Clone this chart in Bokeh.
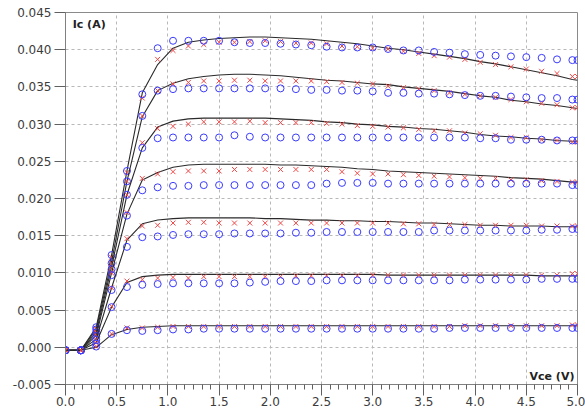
from bokeh.plotting import figure
from bokeh.models import Range1d, SingleIntervalTicker, PrintfTickFormatter, Label
from bokeh.embed import file_html
from bokeh.resources import INLINE

# Vce (V) sample points
vce = [0.0, 0.15, 0.3, 0.45, 0.6, 0.75, 0.9, 1.05, 1.2, 1.35, 1.5, 1.65, 1.8, 1.95,
       2.1, 2.25, 2.4, 2.55, 2.7, 2.85, 3.0, 3.15, 3.3, 3.45, 3.6, 3.75, 3.9, 4.05,
       4.2, 4.35, 4.5, 4.65, 4.8, 4.95, 5.0]

# Curve 1 (highest base current)
c1_model = [-0.0004, -0.0004, 0.0027, 0.0124, 0.0237, 0.0342, 0.0380, 0.0402, 0.0410, 0.0413,
            0.0415, 0.0416, 0.0417, 0.0417, 0.0416, 0.0415, 0.0414, 0.0412, 0.0410, 0.0408,
            0.0405, 0.0402, 0.0400, 0.0397, 0.0394, 0.0391, 0.0388, 0.0384, 0.0381, 0.0377,
            0.0373, 0.0369, 0.0365, 0.0360, 0.0359]
c1_cross = [-0.0004, -0.0004, 0.0026, 0.0121, 0.0235, 0.0335, 0.0387, 0.0399, 0.0405, 0.0407,
            0.0410, 0.0410, 0.0411, 0.0412, 0.0411, 0.0409, 0.0409, 0.0408, 0.0405, 0.0404,
            0.0402, 0.0401, 0.0398, 0.0395, 0.0392, 0.0390, 0.0387, 0.0383, 0.0380, 0.0377,
            0.0374, 0.0371, 0.0368, 0.0364, 0.0364]
c1_circle = [-0.0004, -0.0004, 0.0027, 0.0124, 0.0237, 0.0340, 0.0402, 0.0412, 0.0412, 0.0412,
             0.0412, 0.0410, 0.0409, 0.0409, 0.0408, 0.0407, 0.0406, 0.0404, 0.0403, 0.0403,
             0.0403, 0.0401, 0.0399, 0.0399, 0.0397, 0.0396, 0.0394, 0.0393, 0.0392, 0.0391,
             0.0390, 0.0389, 0.0387, 0.0386, 0.0386]

# Curve 2
c2_model = [-0.0004, -0.0004, 0.0024, 0.0115, 0.0223, 0.0310, 0.0345, 0.0355, 0.0361, 0.0364,
            0.0366, 0.0367, 0.0367, 0.0366, 0.0365, 0.0363, 0.0361, 0.0359, 0.0358, 0.0356,
            0.0354, 0.0353, 0.0350, 0.0348, 0.0346, 0.0344, 0.0341, 0.0338, 0.0336, 0.0332,
            0.0330, 0.0327, 0.0325, 0.0322, 0.0321]
c2_cross = [-0.0004, -0.0004, 0.0024, 0.0113, 0.0223, 0.0311, 0.0345, 0.0354, 0.0356, 0.0358,
            0.0358, 0.0359, 0.0359, 0.0358, 0.0358, 0.0358, 0.0358, 0.0357, 0.0356, 0.0355,
            0.0354, 0.0351, 0.0349, 0.0347, 0.0345, 0.0342, 0.0340, 0.0338, 0.0336, 0.0333,
            0.0330, 0.0328, 0.0326, 0.0322, 0.0322]
c2_circle = [-0.0004, -0.0004, 0.0024, 0.0113, 0.0223, 0.0311, 0.0345, 0.0347, 0.0348, 0.0348,
             0.0348, 0.0348, 0.0348, 0.0348, 0.0348, 0.0347, 0.0346, 0.0346, 0.0345, 0.0345,
             0.0344, 0.0342, 0.0342, 0.0341, 0.0341, 0.0340, 0.0339, 0.0338, 0.0338, 0.0337,
             0.0336, 0.0335, 0.0335, 0.0333, 0.0333]

# Curve 3
c3_model = [-0.0004, -0.0004, 0.0020, 0.0108, 0.0205, 0.0268, 0.0296, 0.0304, 0.0307, 0.0308,
            0.0308, 0.0308, 0.0308, 0.0308, 0.0307, 0.0306, 0.0305, 0.0303, 0.0302, 0.0300,
            0.0299, 0.0297, 0.0296, 0.0294, 0.0293, 0.0291, 0.0289, 0.0286, 0.0284, 0.0283,
            0.0281, 0.0280, 0.0278, 0.0277, 0.0277]
c3_cross = [-0.0004, -0.0004, 0.0020, 0.0107, 0.0205, 0.0275, 0.0294, 0.0297, 0.0300, 0.0303,
            0.0303, 0.0303, 0.0304, 0.0302, 0.0302, 0.0302, 0.0302, 0.0301, 0.0300, 0.0298,
            0.0297, 0.0296, 0.0295, 0.0293, 0.0291, 0.0291, 0.0288, 0.0287, 0.0285, 0.0282,
            0.0282, 0.0279, 0.0278, 0.0276, 0.0276]
c3_circle = [-0.0004, -0.0004, 0.0020, 0.0105, 0.0205, 0.0268, 0.0281, 0.0282, 0.0282, 0.0282,
             0.0282, 0.0285, 0.0283, 0.0282, 0.0282, 0.0282, 0.0282, 0.0282, 0.0282, 0.0282,
             0.0282, 0.0282, 0.0282, 0.0282, 0.0282, 0.0282, 0.0282, 0.0281, 0.0281, 0.0279,
             0.0279, 0.0279, 0.0278, 0.0278, 0.0278]

# Curve 4
c4_model = [-0.0004, -0.0004, 0.0016, 0.0100, 0.0179, 0.0225, 0.0235, 0.0242, 0.0245, 0.0246,
            0.0246, 0.0246, 0.0246, 0.0246, 0.0245, 0.0245, 0.0244, 0.0243, 0.0242, 0.0240,
            0.0239, 0.0237, 0.0236, 0.0235, 0.0234, 0.0233, 0.0232, 0.0231, 0.0230, 0.0228,
            0.0227, 0.0226, 0.0224, 0.0222, 0.0222]
c4_cross = [-0.0004, -0.0004, 0.0016, 0.0100, 0.0181, 0.0227, 0.0233, 0.0236, 0.0237, 0.0237,
            0.0237, 0.0239, 0.0239, 0.0239, 0.0239, 0.0239, 0.0239, 0.0239, 0.0236, 0.0234,
            0.0233, 0.0233, 0.0232, 0.0231, 0.0230, 0.0229, 0.0228, 0.0227, 0.0227, 0.0225,
            0.0225, 0.0224, 0.0223, 0.0222, 0.0222]
c4_circle = [-0.0004, -0.0004, 0.0015, 0.0097, 0.0177, 0.0211, 0.0215, 0.0217, 0.0217, 0.0218,
             0.0218, 0.0218, 0.0218, 0.0218, 0.0218, 0.0218, 0.0218, 0.0220, 0.0221, 0.0221,
             0.0221, 0.0220, 0.0220, 0.0220, 0.0220, 0.0220, 0.0220, 0.0220, 0.0220, 0.0220,
             0.0220, 0.0220, 0.0220, 0.0218, 0.0218]

# Curve 5
c5_model = [-0.0004, -0.0004, 0.0011, 0.0080, 0.0144, 0.0166, 0.0171, 0.0173, 0.0174, 0.0174,
            0.0174, 0.0174, 0.0174, 0.0173, 0.0173, 0.0172, 0.0171, 0.0171, 0.0170, 0.0170,
            0.0169, 0.0169, 0.0168, 0.0167, 0.0167, 0.0166, 0.0165, 0.0164, 0.0164, 0.0163,
            0.0163, 0.0163, 0.0162, 0.0162, 0.0162]
c5_cross = [-0.0004, -0.0004, 0.0011, 0.0080, 0.0146, 0.0163, 0.0164, 0.0167, 0.0168, 0.0168,
            0.0167, 0.0167, 0.0167, 0.0167, 0.0167, 0.0167, 0.0167, 0.0167, 0.0167, 0.0167,
            0.0167, 0.0167, 0.0166, 0.0166, 0.0165, 0.0165, 0.0165, 0.0164, 0.0164, 0.0164,
            0.0164, 0.0163, 0.0163, 0.0163, 0.0163]
c5_circle = [-0.0004, -0.0004, 0.0010, 0.0077, 0.0135, 0.0148, 0.0149, 0.0151, 0.0152, 0.0152,
             0.0152, 0.0153, 0.0153, 0.0153, 0.0153, 0.0154, 0.0154, 0.0155, 0.0155, 0.0155,
             0.0155, 0.0155, 0.0155, 0.0155, 0.0157, 0.0157, 0.0157, 0.0157, 0.0157, 0.0157,
             0.0157, 0.0158, 0.0158, 0.0159, 0.0159]

# Curve 6
c6_model = [-0.0004, -0.0004, 0.0006, 0.0054, 0.0087, 0.0095, 0.0097, 0.0098, 0.0098, 0.0098,
            0.0098, 0.0098, 0.0098, 0.0098, 0.0098, 0.0098, 0.0098, 0.0098, 0.0098, 0.0098,
            0.0098, 0.0097, 0.0097, 0.0097, 0.0097, 0.0097, 0.0097, 0.0097, 0.0097, 0.0097,
            0.0097, 0.0096, 0.0096, 0.0096, 0.0096]
c6_cross = [-0.0004, -0.0004, 0.0006, 0.0055, 0.0089, 0.0091, 0.0093, 0.0094, 0.0093, 0.0095,
            0.0095, 0.0095, 0.0095, 0.0095, 0.0095, 0.0096, 0.0096, 0.0096, 0.0096, 0.0096,
            0.0097, 0.0097, 0.0097, 0.0097, 0.0097, 0.0097, 0.0097, 0.0097, 0.0097, 0.0097,
            0.0097, 0.0097, 0.0097, 0.0099, 0.0099]
c6_circle = [-0.0004, -0.0004, 0.0005, 0.0054, 0.0081, 0.0084, 0.0085, 0.0086, 0.0086, 0.0086,
             0.0086, 0.0086, 0.0087, 0.0088, 0.0089, 0.0089, 0.0089, 0.0090, 0.0090, 0.0090,
             0.0090, 0.0090, 0.0090, 0.0090, 0.0090, 0.0090, 0.0091, 0.0091, 0.0091, 0.0091,
             0.0091, 0.0092, 0.0092, 0.0092, 0.0092]

# Curve 7 (lowest base current)
c7_model = [-0.0004, -0.0004, 0.0000, 0.0017, 0.0024, 0.0027, 0.0028, 0.0029, 0.0029, 0.0029,
            0.0029, 0.0029, 0.0029, 0.0029, 0.0029, 0.0029, 0.0029, 0.0029, 0.0029, 0.0029,
            0.0029, 0.0029, 0.0029, 0.0029, 0.0029, 0.0029, 0.0029, 0.0029, 0.0029, 0.0029,
            0.0029, 0.0029, 0.0029, 0.0029, 0.0029]
c7_cross = [-0.0004, -0.0004, 0.0001, 0.0018, 0.0026, 0.0026, 0.0027, 0.0028, 0.0028, 0.0028,
            0.0028, 0.0028, 0.0028, 0.0028, 0.0028, 0.0028, 0.0028, 0.0028, 0.0028, 0.0028,
            0.0028, 0.0028, 0.0028, 0.0028, 0.0028, 0.0028, 0.0029, 0.0029, 0.0029, 0.0029,
            0.0029, 0.0029, 0.0029, 0.0030, 0.0030]
c7_circle = [-0.0004, -0.0004, 0.0001, 0.0018, 0.0023, 0.0022, 0.0023, 0.0024, 0.0024, 0.0025,
             0.0025, 0.0025, 0.0025, 0.0025, 0.0025, 0.0025, 0.0025, 0.0025, 0.0025, 0.0025,
             0.0025, 0.0025, 0.0025, 0.0025, 0.0025, 0.0026, 0.0026, 0.0026, 0.0026, 0.0026,
             0.0026, 0.0026, 0.0026, 0.0026, 0.0026]

models = [c1_model, c2_model, c3_model, c4_model, c5_model, c6_model, c7_model]
crosses = [c1_cross, c2_cross, c3_cross, c4_cross, c5_cross, c6_cross, c7_cross]
circles = [c1_circle, c2_circle, c3_circle, c4_circle, c5_circle, c6_circle, c7_circle]

p = figure(width=585, height=409, output_backend="svg", toolbar_location=None,
           x_range=Range1d(0, 5), y_range=Range1d(-0.005, 0.045),
           min_border_left=65, min_border_right=8, min_border_top=12, min_border_bottom=25)
p.background_fill_color = "white"
p.border_fill_color = "white"
p.outline_line_color = "#8a8a8a"
p.outline_line_width = 1

p.xaxis.ticker = SingleIntervalTicker(interval=0.5, num_minor_ticks=6)
p.yaxis.ticker = SingleIntervalTicker(interval=0.005, num_minor_ticks=0)
p.xaxis.formatter = PrintfTickFormatter(format="%.1f")
p.yaxis.formatter = PrintfTickFormatter(format="%.3f")

for ax in (p.xaxis, p.yaxis):
    ax.axis_line_color = "#808080"
    ax.major_tick_line_color = "#606060"
    ax.minor_tick_line_color = "#606060"
    ax.major_tick_out = 11
    ax.major_tick_in = 0
    ax.major_label_text_font = "DejaVu Sans"
    ax.major_label_text_font_size = "12px"
    ax.major_label_text_color = "#3c3c3c"
p.xaxis.minor_tick_out = 5
p.xaxis.minor_tick_in = 0
p.yaxis.minor_tick_out = 0
p.xaxis.major_label_standoff = 1
p.yaxis.major_label_standoff = 3

p.xgrid.grid_line_color = "#b8b8b8"
p.ygrid.grid_line_color = "#b8b8b8"
p.xgrid.grid_line_dash = "3 3"
p.ygrid.grid_line_dash = "3 3"

for m, c, o in zip(models, crosses, circles):
    p.line(vce, m, line_color="#2a2a2a", line_width=1.1)
    p.scatter(vce, c, marker="x", size=7, line_color="#f04848", line_width=1)
    p.scatter(vce, o, marker="circle", size=7, line_color="#3a3aff", fill_color=None, line_width=1)

p.add_layout(Label(x=0.07, y=0.0442, text="Ic (A)", text_font="DejaVu Sans",
                   text_font_style="bold", text_font_size="11px", text_color="#222222",
                   text_baseline="top", text_align="left"))
p.add_layout(Label(x=4.97, y=-0.0048, text="Vce (V)", text_font="DejaVu Sans",
                   text_font_style="bold", text_font_size="11px", text_color="#222222",
                   text_baseline="bottom", text_align="right"))

open("out.html", "w").write(file_html(p, INLINE))
